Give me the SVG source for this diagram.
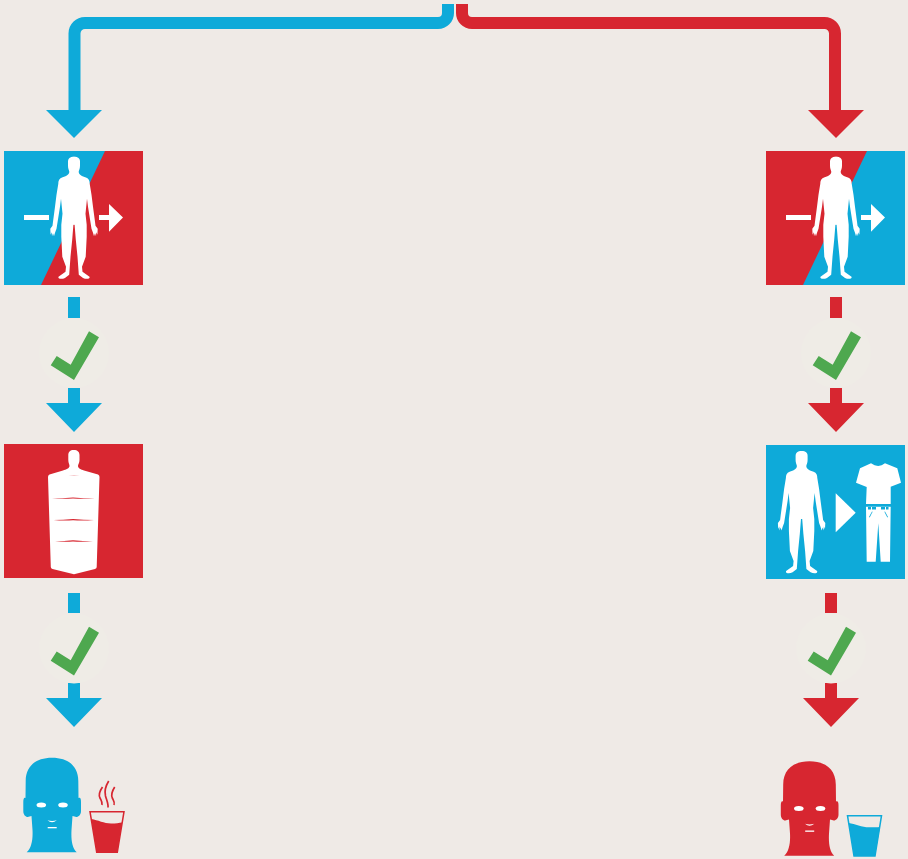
<svg xmlns="http://www.w3.org/2000/svg" xmlns:xlink="http://www.w3.org/1999/xlink" width="908" height="859" viewBox="0 0 908 859">
<style>
.b{fill:#0eaad9}.r{fill:#d72630}.w{fill:#fff}.g{fill:#4ea84f}
.halo{fill:#efece6}
.ls{fill:none;stroke-width:12}
.sb{stroke:#0eaad9}.sr{stroke:#d72630}
</style>
<defs>
<path id="half" d="M-.5,0H0C4,0 6,1.500 6,5L6,9C6,12 5,13 4.700,15C4.700,18 8,19.500 12,20.700C15,22 15.700,24 15.700,27L17.500,38L19,50L21,65L21.500,69L23.700,72L23.400,78L22.300,75.500L22,79.500L21,76.500L20,79.500L19,76L17.500,72L14,50L13,42L11.500,57L12.700,68L12.700,80L11.700,100L8,110L8.500,115L15.500,120C16.500,122.500 12,122.700 9,121.300L4.800,118L3.500,100L1.800,83L.6,68H-.5Z"/>
<g id="person"><use href="#half" class="w"/><use href="#half" class="w" transform="scale(-1,1)"/></g>
<path id="head" d="M52,757.700C68,757.700 78.300,766 78.300,781L78.500,798C80.500,797 81,799 81,802L81,811C81,816 77,818 74.500,816.500L72.500,816L71.500,830C71,840 72,848 76.700,852.300L26.700,852.300C31.500,848 33,840 32.500,830L31.500,816L29.500,816.500C27,818 23.300,816 23.300,811L23.300,802C23.300,799 24,797 25.500,798L25.700,781C25.700,766 36,757.700 52,757.700Z"/>
<g id="face" class="w">
<ellipse cx="41.300" cy="805" rx="4.800" ry="2.500"/><ellipse cx="63" cy="805" rx="4.800" ry="2.500"/>
<path d="M47.500,820.300Q52,821.600 56.800,820.300Q52,824.400 47.500,820.300Z"/>
<rect x="47.700" y="827" width="9" height="1.300"/>
</g>
<g id="checkmark">
<circle class="halo" cx="74" cy="353" r="35"/>
<path class="g" d="M89,331.300L99,337.300L74,380L50.700,365.300L56.700,356L70.700,364.700Z"/>
</g>
<path id="head-arrow" d="M68,388H80V403H102L74,432L46,403H68Z"/>
</defs>
<rect width="908" height="859" fill="#efeae6"/>

<g id="connectors">
<path class="ls sb" d="M448,4V13A10,10 0 0 1 438,23H85A10.500,10.500 0 0 0 74.500,33.500V112"/>
<path class="b" d="M46,110H102L74,138Z"/>
<path class="ls sr" d="M462,4V13A10,10 0 0 0 472,23H824.500A10.500,10.500 0 0 1 835,33.500V112"/>
<path class="r" d="M808,110H864L836,138Z"/>
<rect class="b" x="68" y="297" width="12" height="21"/>
<rect class="r" x="830" y="297" width="12" height="21"/>
<rect class="b" x="68" y="593" width="12" height="20"/>
<rect class="r" x="825" y="593" width="12" height="20"/>
<use href="#head-arrow" class="b"/>
<use href="#head-arrow" class="r" transform="translate(762,0)"/>
<use href="#head-arrow" class="b" transform="translate(0,295)"/>
<use href="#head-arrow" class="r" transform="translate(757,295)"/>
</g>

<g id="check-1"><use href="#checkmark"/></g>
<g id="check-2"><use href="#checkmark" transform="translate(762,0)"/></g>
<g id="check-3"><use href="#checkmark" transform="translate(0,295.500)"/></g>
<g id="check-4"><use href="#checkmark" transform="translate(757,295.500)"/></g>

<g id="panel-left-top">
<rect class="b" x="4" y="151" width="139" height="134"/>
<path class="r" d="M105,151H143V285H41Z"/>
<rect class="w" x="24" y="215" width="25" height="5"/>
<path class="w" d="M99,215H109V204L123,217.500L109,231.700V220H99Z"/>
<use href="#person" transform="translate(74,156.700)"/>
</g>
<g id="panel-right-top">
<rect class="r" x="766" y="151" width="139" height="134"/>
<path class="b" d="M867,151H905V285H803Z"/>
<rect class="w" x="786" y="215" width="25" height="5"/>
<path class="w" d="M861,215H871V204L885,217.500L871,231.700V220H861Z"/>
<use href="#person" transform="translate(836,156.700)"/>
</g>

<g id="panel-left-mid">
<rect class="r" x="4" y="444" width="139" height="134"/>
<path class="w" d="M73.800,450C77.500,450 79.500,452 79.500,455L79.500,460C79.500,463 78,464 78,466C78,468.500 81,469.500 84,470.500L98,474.500Q99.500,475 99.500,477L96.700,567Q96.700,568.500 95,569L74,574.300L52.500,569Q50.800,568.500 50.800,567L48,477Q48,475 49.500,474.500L63,470.500C66,469.500 69.500,468.500 69.500,466C69.500,464 68.300,463 68.300,460L68.300,455C68.300,452 70,450 73.800,450Z"/>
<g class="r">
<path d="M63,474.800Q74,475.800 85,474.800Q74,476.300 63,474.800Z"/>
<path d="M52,498.400Q62,498.400 73,497.400Q84,498.400 95,498.400Q84,499.200 73,498.600Q62,499.200 52,498.400Z"/>
<path d="M53.500,519.900Q63,519.900 73,519Q84,519.900 94,519.900Q84,520.800 73,520.200Q63,520.800 53.500,519.900Z"/>
<path d="M55,541.100Q64,541.100 73,540.200Q83,541.100 93,541.100Q83,542 73,541.400Q64,542 55,541.100Z"/>
</g>
</g>

<g id="panel-right-mid">
<rect class="b" x="766" y="445" width="139" height="134"/>
<use href="#person" transform="translate(801.600,451)"/>
<path class="w" d="M835.700,493.300L855.700,512.700L835.700,532.300Z"/>
<path class="w" d="M871,463.300Q878.300,468.500 885,463.300L897.300,468.300L901,482.700L890.700,486.700L890.700,504H866L866.700,487L856,482.700L860,468.300Z"/>
<path class="w" d="M866,506.700H890.700L890,561.700H880.700L878.300,523.300L875.700,561.700H866.700Z"/>
<g class="b">
<rect x="868" y="507" width="3" height="2.500"/><rect x="872" y="507" width="4" height="2.500"/>
<rect x="881" y="507" width="4" height="2.500"/><rect x="886" y="507" width="2.500" height="2.500"/>
<path d="M869,517L872,511.500L872.600,511.800L869.700,517.500Z"/><path d="M888,517L885,511.500L884.400,511.800L887.300,517.500Z"/>
</g>
</g>

<g id="person-left">
<use href="#head" class="b"/><use href="#face"/>
</g>
<g id="cup-left">
<path fill="none" stroke="#d72630" stroke-width="1.500" d="M90,811.700H124L117.300,852.300H96.700Z"/>
<path class="r" d="M91.300,819C98,820 104,823.500 111,823.500C116,823.500 119,823 122.200,822.500L117.300,852.300H96.700Z"/>
<g fill="none" stroke="#d72630" stroke-width="1.700">
<path d="M102.500,787C99,792 98.500,795 100,798C101.500,801 102.500,802 102,805"/>
<path d="M108.700,781C105,787 104.500,792 105.500,796C107,801 108.500,804 108,807.500"/>
<path d="M114.700,787C111.500,792 111,795 112.300,798C113.800,801 115,802 114,805"/>
</g>
</g>
<g id="person-right" transform="translate(757.500,3.500)">
<use href="#head" class="r"/><use href="#face"/>
</g>
<g id="cup-right">
<path fill="none" stroke="#0eaad9" stroke-width="1.500" d="M847.500,815.700H881.500L875,856H854Z"/>
<path class="b" d="M848.700,823C855,824 862,827.300 869,827.300C874,827.300 877,827.300 880,827L875,856H854Z"/>
</g>
</svg>
